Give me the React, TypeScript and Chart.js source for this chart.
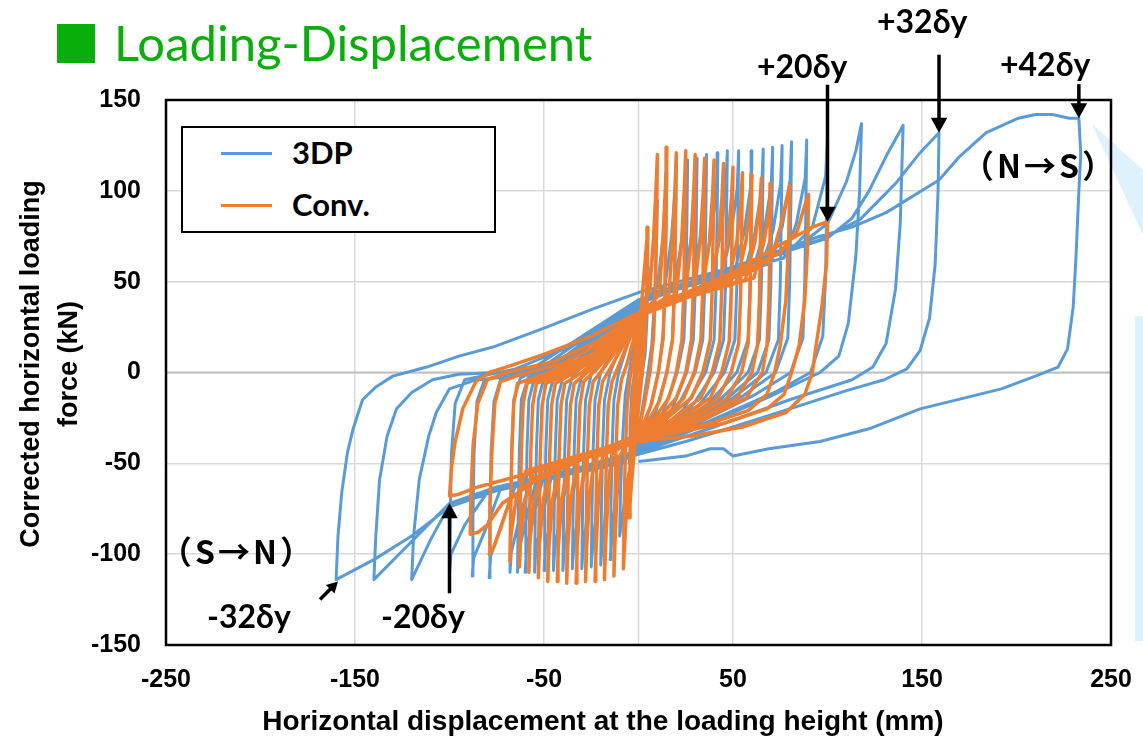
import React, { useEffect, useRef } from "react";
import { Chart, registerables } from "chart.js";
Chart.register(...registerables);

// ---- axis ticks ----
const xTickValues = [-250, -150, -50, 50, 150, 250];
const yTickValues = [-150, -100, -50, 0, 50, 100, 150];
const seriesNames = ["3DP", "Conv."];

// ---- 3DP (blue) : small cycles ----
const dp3Small: number[][] = [
  [0,0],[2,20],[4,38],[5,50],[4.5,30],[3.5,10],[2,0],[0,-15],[-2,-28],[-4,-42],[-5,-50],[-4.5,-30],[-3.5,-10],[-2,0],[0,15],
  [2,30],[5,45],[8,70],[9.5,88],[10,95],[9.5,70],[8.5,40],[7,15],[5,0],[2,-20],[0,-32],[-3,-45],[-6,-60],[-8.5,-80],[-10,-90],[-9.5,-65],[-8.5,-38],[-7,-12],[-5,0],[-2,18],[0,30],
  [4,40],[10,47],[13,75],[14.4,98],[15,110],[14.6,80],[14,45],[13,18],[10.5,0],[6,-20],[0,-38],[-5,-46],[-11,-53],[-13,-78],[-14.4,-95],[-15,-103],[-14.6,-75],[-14,-42],[-13,-15],[-10.5,0],[-5,18],[0,35],
  [6,42],[14,47],[17.5,75],[19.3,100],[20,115],[19.6,82],[19,45],[18,18],[15,0],[9,-22],[0,-40],[-7,-47],[-15,-52],[-17.5,-78],[-19.3,-96],[-20,-106],[-19.6,-75],[-19,-42],[-18,-15],[-15,0],[-8,18],[0,37],
  [8,42],[19,48],[23.2,75],[25.2,100],[26,117],[25.6,83],[25,45],[24,18],[20.5,0],[13,-22],[0,-41],[-9,-47],[-19.5,-53],[-22.3,-78],[-24.3,-96],[-25,-107],[-24.6,-75],[-24,-42],[-23,-15],[-20,0],[-11,17],[0,38],
  [10,43],[24,49],[28,75],[30.2,100],[31,118],[30.6,84],[30,45],[29,18],[25.5,0],[17,-22],[0,-42],[-11,-48],[-24,-54],[-27,-78],[-29.3,-97],[-30,-108],[-29.6,-76],[-29,-42],[-28,-15],[-25,-1],[-14,16],[0,39],
  [12,44],[28.5,50],[33,76],[35.2,101],[36,120],[35.6,85],[35,46],[34,18],[30,0],[20,-20],[0,-42],[-12,-48],[-28.5,-55],[-32,-78],[-34.3,-97],[-35,-108],[-34.6,-76],[-34,-42],[-33,-15],[-30,-2],[-17,15],[0,39],
  [14,44],[34,51],[38.5,76],[41.2,101],[42,121],[41.6,86],[41,46],[40,18],[35.5,0],[24,-20],[0,-43],[-14,-48],[-32.5,-55],[-36.5,-78],[-39.3,-97],[-40,-109],[-39.6,-76],[-39,-42],[-38,-15],[-35,-2],[-20,14],[0,39],
  [16,45],[38.5,52],[43.5,76],[46.2,101],[47,122],[46.6,87],[46,47],[45,18],[40,0],[28,-19],[0,-43],[-16,-48],[-37,-55],[-41.2,-78],[-44.3,-97],[-45,-109],[-44.6,-76],[-44,-42],[-43,-15],[-40,-3],[-23,13],[0,40],
  [18,45],[44,53],[49,76],[52.2,101],[53,122],[52.6,87],[52,47],[51,18],[45.5,0],[32,-18],[0,-43],[-18,-49],[-41.5,-56],[-46,-78],[-49.3,-97],[-50,-109],[-49.6,-76],[-49,-42],[-48,-15],[-45,-3],[-26,12],[0,40],
  [20,46],[50.5,54],[55.8,77],[59.2,101],[60,122],[59.6,87],[59,47],[58,18],[52,0],[37,-17],[0,-43],[-20,-49],[-46,-57],[-50.8,-79],[-54.3,-98],[-55,-110],[-54.6,-77],[-54,-42],[-53,-15],[-50,-3],[-30,11],[0,40],
  [22,47],[56,55],[61.6,77],[65.2,102],[66,123],[65.6,88],[65,47],[64,18],[58,0],[42,-16],[0,-43],[-22,-50],[-50.5,-58],[-55.5,-79],[-59.3,-98],[-60,-110],[-59.6,-77],[-59,-42],[-58,-15],[-55,-3],[-33,10],[0,40],
  [24,48],[60.5,56],[66.5,78],[70.2,103],[71,124],[70.6,89],[70,48],[69,18],[63,0],[46,-15],[0,-44],[-24,-50],[-54,-59],[-59.2,-80],[-63.3,-98],[-64,-110],[-63.6,-77],[-63,-42],[-62,-15],[-58.5,-3],[-36,9],[0,40],
  [26,49],[65,58],[71.2,78],[75.2,104],[76,125],[75.6,90],[75,48],[74,18],[67.5,0],[50,-14],[0,-44],[-26,-51],[-57.5,-60],[-63,-80],[-67.3,-99],[-68,-110],[-67.6,-77],[-67,-42],[-66,-15],[-62.5,-3],[-40,8],[0,40],
  [28,49],[70,60],[76,80],[80.2,106],[81,127],[80.6,92],[80,50],[79,19],[72.5,0],[55,-13],[0,-44],[-28,-52],[-65,-62],[-72,-82],[-78.2,-101],[-79,-113],[-78.6,-80],[-78,-44],[-76.5,-16],[-73,-4],[-48,5],[0,40],
  [30,50],[77,63],[83.5,82],[88.2,107],[89,128],[88.6,93],[88,51],[87,19],[80.5,0],[62,-12],[0,-44],[-30,-52],[-73,-64],[-80,-84],[-87.2,-102],[-88,-112],[-87.6,-80],[-87,-44],[-85.5,-16],[-81.5,-4],[-55,3],[0,40],
];

// ---- 3DP (blue) : large cycles ----
const dp3Large: number[][] = [
  [35,52],[80,67],[92,80],[99,108],[100,129],[99.6,95],[99,52],[97.5,20],[91,0],[72,-11],[0,-44],[-35,-54],[-80,-66],[-92,-84],[-99.2,-100],[-100,-110],[-99.6,-80],[-99,-45],[-97,-17],[-92,-4],[-65,2],[-30,17],[0,40],
  [50,57],[85,70],[100,82],[110,105],[115,122],[118,137],[117,100],[115,64],[111,27],[106,9],[96,0],[70,-13],[35,-29],[0,-44],[-40,-56],[-75,-64],[-100,-73],[-110,-92],[-120,-114],[-119,-90],[-116,-59],[-111,-35],[-107,-22],[-100,-9],[-86,-4],[-65,-2],[-45,4],[-25,17],[0,38],
  [50,57],[100,74],[113,85],[122,100],[131,119],[140,136],[138.5,82],[136,46],[131,16],[124,3],[113,-4],[80,-15],[40,-30],[0,-44],[-40,-55],[-75,-63],[-100,-72],[-120,-93],[-140,-114],[-139,-90],[-137,-59],[-133,-35],[-128,-20],[-120,-11],[-109,-4],[-95,-1],[-75,0],[-51,2],[-30,14],[0,40],
  [50,58],[96,73],[117,84],[136,104],[149,121],[159,132],[158.5,100],[157,60],[154,30],[149,12],[142,2],[130,-4],[110,-10],[80,-20],[50,-30],[25,-38],[0,-45],[-40,-57],[-75,-65],[-100,-74],[-120,-90],[-140,-103],[-160,-114],[-159,-90],[-157,-66],[-154,-44],[-151,-31],[-146,-15],[-139,-8],[-130,-2],[-112,3],[-95,9],[-77,14],[-51,24],[-24,35],[0,44],
  [50,58],[96,75],[113,80],[131,88],[159,106],[170,119],[184,132],[201,140],[210,142],[219,142],[228,140],[233,140],[234,120],[233,100],[231.5,64],[230,36],[227,13],[222,3],[210,-2],[192,-9],[149,-20],[122,-31],[96,-38],[69,-42],[50,-46],[45,-42],[38,-42],[25,-46],[0,-49],
];

// ---- Conv. (orange) : small cycles ----
const convSmall: number[][] = [
  [0,0],[1.5,25],[2.5,40],[2,20],[1,0],[-0.5,-20],[-2.5,-40],[-2,-20],[-1,0],[0,15],
  [1,30],[3,55],[5,80],[4.5,50],[3.5,20],[2,0],[0,-20],[-2,-40],[-4,-65],[-5,-80],[-4.5,-50],[-3.5,-20],[-2,0],[0,20],
  [2,36],[6,45],[8,75],[9.3,102],[10,120],[9.6,85],[9,50],[8,20],[6,0],[3,-18],[0,-32],[-3,-42],[-5.5,-60],[-7,-88],[-8,-108],[-7.6,-78],[-7,-45],[-6,-18],[-4.5,-3],[-2,12],[0,30],
  [6,37],[11,43],[13,75],[14.3,103],[15,124],[14.6,88],[14,48],[13,20],[10.5,0],[7,-17],[3,-27],[0,-33],[-6,-40],[-10,-46],[-11.5,-70],[-12.5,-95],[-13,-112],[-12.6,-80],[-12,-45],[-11,-18],[-9,-4],[-6,5],[-3,17],[0,31],
  [8,37],[16,42],[18,72],[19.3,100],[20,121],[19.6,86],[19,46],[18,18],[15,0],[11,-16],[5,-27],[0,-33],[-8,-40],[-14,-45],[-16.2,-70],[-17.4,-95],[-18,-114],[-17.6,-82],[-17,-46],[-16,-18],[-14,-5],[-10,5],[-5,18],[0,31],
  [10,38],[20,43],[22.8,72],[24.2,100],[25,122],[24.6,87],[24,46],[23,18],[20,0],[16,-14],[8,-26],[0,-33],[-10,-40],[-19,-46],[-21.2,-70],[-22.4,-96],[-23,-115],[-22.6,-82],[-22,-46],[-21,-18],[-19,-5],[-14,4],[-7,17],[0,31],
  [12,38],[25,44],[27.8,72],[29.2,100],[30,120],[29.6,86],[29,45],[28,18],[25,0],[20,-14],[10,-26],[0,-34],[-12,-41],[-23.5,-47],[-26,-70],[-27.4,-96],[-28,-115],[-27.6,-82],[-27,-46],[-26,-18],[-24,-5],[-18,3],[-9,16],[0,31],
  [14,39],[29.5,45],[32.6,72],[34.2,98],[35,118],[34.6,85],[34,45],[33,18],[29.5,0],[24,-14],[12,-26],[0,-34],[-14,-41],[-28,-47],[-31,-70],[-32.4,-96],[-33,-116],[-32.6,-82],[-32,-46],[-31,-18],[-29,-5],[-22,2],[-11,15],[0,31],
  [16,39],[34,46],[37.5,72],[39.2,98],[40,117],[39.6,85],[39,45],[38,18],[34,0],[28,-14],[14,-26],[0,-34],[-16,-42],[-32.5,-48],[-35.8,-70],[-37.4,-96],[-38,-116],[-37.6,-82],[-37,-46],[-36,-18],[-34,-6],[-26,1],[-13,14],[0,31],
];

// ---- Conv. (orange) : larger cycles ----
const convLarge: number[][] = [
  [18,40],[38.5,47],[42.3,72],[44.2,97],[45,115],[44.6,84],[44,44],[43,17],[39,0],[33,-14],[16,-27],[0,-34],[-18,-42],[-37,-49],[-40.6,-70],[-42.4,-96],[-43,-115],[-42.6,-82],[-42,-46],[-41,-18],[-39,-6],[-30,0],[-15,13],[0,31],
  [20,40],[43,48],[47.2,72],[49.2,96],[50,113],[49.6,83],[49,43],[48,17],[44,0],[38,-14],[19,-27],[0,-35],[-20,-43],[-41.5,-50],[-45.5,-70],[-47.4,-96],[-48,-115],[-47.6,-82],[-47,-46],[-46,-18],[-44,-6],[-34,0],[-17,12],[0,31],
  [22,41],[47.5,49],[52,72],[54.2,94],[55,110],[54.6,80],[54,42],[53,16],[49,0],[42,-14],[21,-28],[0,-35],[-22,-43],[-46,-51],[-50.4,-70],[-52.4,-95],[-53,-113],[-52.6,-80],[-52,-45],[-51,-18],[-49,-6],[-38,-1],[-19,11],[0,31],
  [24,41],[52,50],[56.8,72],[59.2,93],[60,109],[59.6,79],[59,41],[58,16],[54.5,0],[47,-14],[24,-28],[0,-35],[-24,-44],[-50.5,-52],[-55.2,-70],[-57.4,-93],[-58,-110],[-57.6,-78],[-57,-44],[-56,-18],[-54,-6],[-42,-1],[-21,10],[0,31],
  [26,42],[56.5,51],[61.6,72],[64.2,92],[65,107],[64.6,77],[64,40],[63,15],[60,0],[52,-14],[26,-29],[0,-36],[-26,-44],[-55,-53],[-60,-70],[-62.4,-91],[-63,-107],[-62.6,-76],[-62,-43],[-61,-17],[-59,-6],[-46,-1],[-23,10],[0,31],
  [28,42],[61,52],[66.4,72],[69.2,90],[70,104],[69.6,75],[69,39],[68,15],[65.5,0],[57,-14],[28,-29],[0,-36],[-28,-45],[-59.5,-54],[-64.8,-70],[-67.4,-89],[-68,-104],[-67.6,-74],[-67,-42],[-66,-17],[-64,-6],[-50,-1],[-25,10],[0,32],
  [30,44],[55,54],[70,62],[75,80],[78.5,96],[80,103],[79.5,75],[78,40],[75,15],[72,0],[68,-12],[58,-21],[38,-28],[18,-33],[0,-36],[-30,-47],[-55,-58],[-68,-70],[-73,-86],[-76.5,-96],[-79,-100],[-78.6,-72],[-77.5,-42],[-76,-17],[-73,-5],[-62,-1],[-40,5],[-20,16],[0,32],
  [30,45],[55,56],[75,66],[84,78],[88,92],[90,98],[89.5,70],[88,40],[85,15],[81,0],[77,-12],[68,-20],[45,-28],[20,-33],[0,-37],[-30,-48],[-55,-60],[-72,-72],[-80,-84],[-85,-88],[-89,-89],[-88.6,-66],[-87.5,-40],[-85,-17],[-80,-4],[-70,0],[-45,6],[-22,17],[0,33],
  [30,46],[50,55],[71,68],[92,80],[100,83],[99.5,60],[97,36],[94,15],[92,0],[88,-12],[78,-22],[55,-30],[28,-35],[0,-38],[-30,-47],[-60,-56],[-85,-63],[-95,-67],[-100,-68],[-99,-53],[-97,-38],[-93,-20],[-86,-5],[-79,0],[-70,3],[-50,10],[-25,20],[0,33],
];

// ---- annotation anchors (data coordinates of arrow tips) ----
const arrowTips = [
  { x: 100, y: 83, dx: 0, dy: -137, head: 15 },
  { x: 159, y: 132, dx: 0, dy: -78, head: 15 },
  { x: 233, y: 140, dx: 0, dy: -34, head: 15 },
  { x: -100, y: -72, dx: 0, dy: 90, head: 15 },
  { x: -159, y: -115, dx: -18, dy: 18, head: 11 },
];

const BLUE = "#5B9BD5";
const ORANGE = "#ED7D31";
const GREEN = "#0AAE0A";
const GRID = "#D9D9D9";

const toXY = (a: number[][]) => a.map(([x, y]) => ({ x, y }));

const overlayPlugin = {
  id: "overlayPlugin",
  beforeDatasetsDraw(chart: any) {
    const { ctx, chartArea, scales } = chart;
    const px = scales.x.getPixelForValue(0);
    const py = scales.y.getPixelForValue(0);
    ctx.save();
    ctx.strokeStyle = GRID;
    ctx.lineWidth = 1.5;
    ctx.beginPath();
    ctx.moveTo(px, chartArea.top);
    ctx.lineTo(px, chartArea.bottom);
    ctx.stroke();
    ctx.strokeStyle = "#BFBFBF";
    ctx.lineWidth = 2;
    ctx.beginPath();
    ctx.moveTo(chartArea.left, py);
    ctx.lineTo(chartArea.right, py);
    ctx.stroke();
    ctx.restore();
  },
  afterDatasetsDraw(chart: any) {
    const { ctx, chartArea, scales } = chart;
    ctx.save();
    ctx.strokeStyle = "#000";
    ctx.lineWidth = 2.5;
    ctx.strokeRect(chartArea.left, chartArea.top, chartArea.right - chartArea.left, chartArea.bottom - chartArea.top);
    ctx.fillStyle = "#000";
    ctx.lineWidth = 3.5;
    for (const a of arrowTips) {
      const tx = scales.x.getPixelForValue(a.x);
      const ty = scales.y.getPixelForValue(a.y);
      const sx = tx + a.dx;
      const sy = ty + a.dy;
      const len = Math.hypot(tx - sx, ty - sy);
      const ux = (tx - sx) / len;
      const uy = (ty - sy) / len;
      const bx = tx - ux * a.head;
      const by = ty - uy * a.head;
      ctx.beginPath();
      ctx.moveTo(sx, sy);
      ctx.lineTo(bx + ux, by + uy);
      ctx.stroke();
      const hw = a.head * 0.55;
      ctx.beginPath();
      ctx.moveTo(tx, ty);
      ctx.lineTo(bx - uy * hw, by + ux * hw);
      ctx.lineTo(bx + uy * hw, by - ux * hw);
      ctx.closePath();
      ctx.fill();
    }
    ctx.restore();
  },
};

function HysteresisChart() {
  const ref = useRef<HTMLCanvasElement | null>(null);
  useEffect(() => {
    if (!ref.current) return;
    const tickFont = { family: "'Liberation Sans', Arial, sans-serif", size: 25, weight: "bold" as const };
    const chart = new Chart(ref.current, {
      type: "line",
      data: {
        datasets: [
          {
            label: seriesNames[0],
            data: toXY([...dp3Small, ...dp3Large]),
            borderColor: BLUE,
            backgroundColor: BLUE,
            borderWidth: 3,
            pointRadius: 0,
            tension: 0,
            fill: false,
            order: 2,
            borderJoinStyle: "round",
          },
          {
            label: seriesNames[1],
            data: toXY([...convSmall, ...convLarge]),
            borderColor: ORANGE,
            backgroundColor: ORANGE,
            borderWidth: 3.5,
            pointRadius: 0,
            tension: 0,
            fill: false,
            order: 1,
            borderJoinStyle: "round",
          },
        ],
      },
      options: {
        responsive: false,
        maintainAspectRatio: false,
        devicePixelRatio: 1,
        animation: false,
        events: [],
        layout: { padding: { left: 0, right: 32, top: 100, bottom: 0 } },
        plugins: { legend: { display: false }, tooltip: { enabled: false }, title: { display: false } },
        scales: {
          x: {
            type: "linear",
            min: -250,
            max: 250,
            afterFit: (s: any) => { s.height = 94; s.paddingLeft = 0; s.paddingRight = 0; },
            afterBuildTicks: (s: any) => { s.ticks = xTickValues.map((v) => ({ value: v })); },
            ticks: { stepSize: 100, font: tickFont, color: "#000", padding: 20, maxRotation: 0 },
            grid: { color: GRID, lineWidth: 1.5, drawTicks: false },
            border: { display: false },
          },
          y: {
            type: "linear",
            min: -150,
            max: 150,
            afterFit: (s: any) => { s.width = 166; s.paddingTop = 0; s.paddingBottom = 0; },
            afterBuildTicks: (s: any) => { s.ticks = yTickValues.map((v) => ({ value: v })); },
            ticks: { stepSize: 50, font: tickFont, color: "#000", padding: 25 },
            grid: { color: GRID, lineWidth: 1.5, drawTicks: false },
            border: { display: false },
          },
        },
      },
      plugins: [overlayPlugin],
    });
    return () => chart.destroy();
  }, []);
  return <canvas ref={ref} width={1143} height={739} style={{ position: "absolute", left: 0, top: 0 }} />;
}

const abs = (l: number, t: number, extra: React.CSSProperties = {}): React.CSSProperties => ({
  position: "absolute", left: l, top: t, whiteSpace: "nowrap", ...extra,
});

const annFont: React.CSSProperties = { fontFamily: "Lato, 'Noto Sans', sans-serif", fontWeight: 700, fontSize: 32, lineHeight: "32px", color: "#000" };
const cjkFont: React.CSSProperties = { fontFamily: "'Noto Sans CJK JP', 'Noto Sans', sans-serif", fontWeight: 700, fontSize: 32, lineHeight: "32px", letterSpacing: 3, color: "#000" };

export default function App() {
  return (
    <div style={{ position: "absolute", left: 0, top: 0, width: 1143, height: 739, background: "#fff", overflow: "hidden" }}>
      <svg width={1143} height={739} style={{ position: "absolute", left: 0, top: 0 }}>
        <polygon points="1092,124 1143,170 1143,235" fill="#DDF2FC" />
        <rect x={1135} y={316} width={8} height={325} fill="#DDF2FC" />
      </svg>
      <HysteresisChart />
      {/* Title */}
      <div style={abs(57, 24, { width: 38, height: 39, background: GREEN })} />
      <div style={abs(114, 18, { fontFamily: "Lato, 'Noto Sans', sans-serif", fontSize: 49, lineHeight: "49px", color: GREEN })}>Loading-Displacement</div>
      {/* Legend */}
      <div style={abs(181, 126, { width: 315, height: 107, boxSizing: "border-box", border: "2px solid #000", background: "#fff" })} />
      <div style={abs(221, 152, { width: 51, height: 3, background: BLUE })} />
      <div style={abs(221, 204, { width: 51, height: 3, background: ORANGE })} />
      <div style={abs(292, 137, { ...annFont, fontSize: 31, lineHeight: "31px" })}>{seriesNames[0]}</div>
      <div style={abs(292, 189, { ...annFont, fontSize: 31, lineHeight: "31px" })}>{seriesNames[1]}</div>
      {/* Axis titles */}
      <div style={abs(203, 705, { width: 800, textAlign: "center", fontFamily: "'Liberation Sans', Arial, sans-serif", fontWeight: 700, fontSize: 28, lineHeight: "32px", color: "#000" })}>
        Horizontal displacement at the loading height (mm)
      </div>
      <div style={abs(49 - 220, 364 - 38, { width: 440, height: 76, textAlign: "center", transform: "rotate(-90deg)", transformOrigin: "50% 50%", fontFamily: "'Liberation Sans', Arial, sans-serif", fontWeight: 700, fontSize: 27, lineHeight: "38px", color: "#000" })}>
        <div>Corrected horizontal loading</div>
        <div>force (kN)</div>
      </div>
      {/* Annotations */}
      <div style={abs(757, 50, annFont)}>+20δy</div>
      <div style={abs(877, 5, annFont)}>+32δy</div>
      <div style={abs(1000, 48, annFont)}>+42δy</div>
      <div style={abs(207, 600, annFont)}>-32δy</div>
      <div style={abs(381, 600, annFont)}>-20δy</div>
      <div style={abs(160, 534, cjkFont)}>（S→N）</div>
      <div style={abs(962, 148, cjkFont)}>（N→S）</div>
    </div>
  );
}
